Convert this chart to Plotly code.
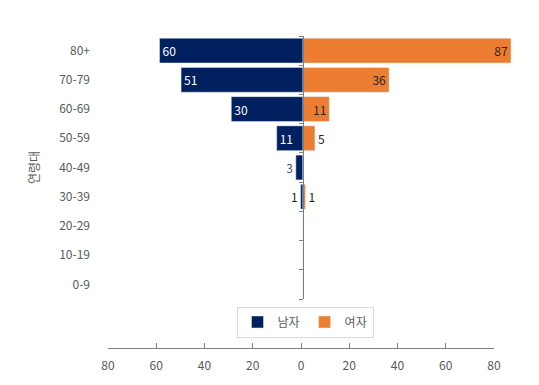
import plotly.graph_objects as go

categories = ['0-9', '10-19', '20-29', '30-39', '40-49', '50-59', '60-69', '70-79', '80+']
male = [0, 0, 0, 1, 3, 11, 30, 51, 60]
female = [0, 0, 0, 1, 0, 5, 11, 36, 87]
series_names = ['남자', '여자']
tick_values = [-80, -60, -40, -20, 0, 20, 40, 60, 80]
tick_labels = ['80', '60', '40', '20', '0', '20', '40', '60', '80']

OFF = 8  # default page body margin
W, H = 539 - OFF, 385 - OFF
FONT = 'Noto Sans CJK KR'
GRAY = '#595959'
NAVY = '#002060'
ORANGE = '#ED7D31'

def fx(px):
    return (px - OFF) / W

def fy(py):
    return (H - (py - OFF)) / H

x_dom = [fx(95), fx(511)]
y_dom = [fy(299), fy(36)]
center = (x_dom[0] + x_dom[1]) / 2

def labels(vals):
    return [str(v) if v else '' for v in vals]

male_pos = ['inside' if v >= 10 else 'outside' for v in male]
female_pos = ['inside' if v >= 10 else 'outside' for v in female]
male_col = ['white' if v >= 10 else ('#44546A' if v >= 3 else '#262626') for v in male]

fig = go.Figure()
fig.add_trace(go.Bar(
    y=categories, x=[-v for v in male], orientation='h', name=series_names[0],
    marker_color=NAVY, text=labels(male), textposition=male_pos,
    insidetextanchor='end', textfont=dict(color=male_col, size=12, family=FONT),
    cliponaxis=False, hoverinfo='skip'))
fig.add_trace(go.Bar(
    y=categories, x=female, orientation='h', name=series_names[1],
    marker_color=ORANGE, text=labels(female), textposition=female_pos,
    insidetextanchor='end', textfont=dict(color='#262626', size=12, family=FONT),
    cliponaxis=False, hoverinfo='skip'))
# empty helper traces so the extra axes are drawn
fig.add_trace(go.Scatter(x=[None], y=[None], xaxis='x2', yaxis='y3', showlegend=False, hoverinfo='skip'))
fig.add_trace(go.Scatter(x=[None], y=[None], xaxis='x', yaxis='y2', showlegend=False, hoverinfo='skip'))

n = len(categories)
fig.update_layout(
    width=W, height=H,
    margin=dict(l=0, r=0, t=0, b=0, autoexpand=False),
    paper_bgcolor='white', plot_bgcolor='white',
    barmode='relative', bargap=0.15,
    font=dict(family=FONT, color=GRAY, size=12),
    showlegend=True,
    legend=dict(orientation='h', x=fx(305), y=fy(322), xanchor='center', yanchor='middle',
                bordercolor='#D9D9D9', borderwidth=1, font=dict(size=12, color=GRAY),
                itemwidth=30, traceorder='normal', tracegroupgap=0),
    xaxis=dict(domain=x_dom, range=[-87, 87], showgrid=False, zeroline=False,
               showticklabels=False, showline=False, fixedrange=True, automargin=False),
    yaxis=dict(domain=y_dom, type='category', categoryarray=categories, range=[-0.5, n - 0.5],
               showgrid=False, zeroline=False, showline=False, ticks='', automargin=False,
               ticklabelstandoff=4,
               tickfont=dict(size=12, color=GRAY),
               title=dict(text='연령대', font=dict(size=12, color=GRAY), standoff=16)),
    yaxis2=dict(overlaying='y', anchor='free', position=center, domain=y_dom,
                range=[-0.5, n - 0.5], tickmode='array', automargin=False,
                tickvals=[i - 0.5 for i in range(n + 1)],
                showticklabels=False, showgrid=False, zeroline=False,
                showline=True, linecolor='#7F7F7F', ticks='outside', ticklen=4,
                tickcolor='#7F7F7F'),
    xaxis2=dict(anchor='y3', domain=[fx(108), fx(494)], range=[-80, 80], automargin=False,
                tickmode='array', tickvals=tick_values, ticktext=tick_labels,
                showgrid=False, zeroline=False, showline=True, linecolor='#7F7F7F',
                ticks='inside', ticklen=5, tickcolor='#7F7F7F', ticklabelstandoff=7,
                tickfont=dict(size=12, color=GRAY)),
    yaxis3=dict(anchor='x2', domain=[fy(348), fy(347)], range=[0, 1], visible=False,
                automargin=False),
)

fig.write_html('out.html')
